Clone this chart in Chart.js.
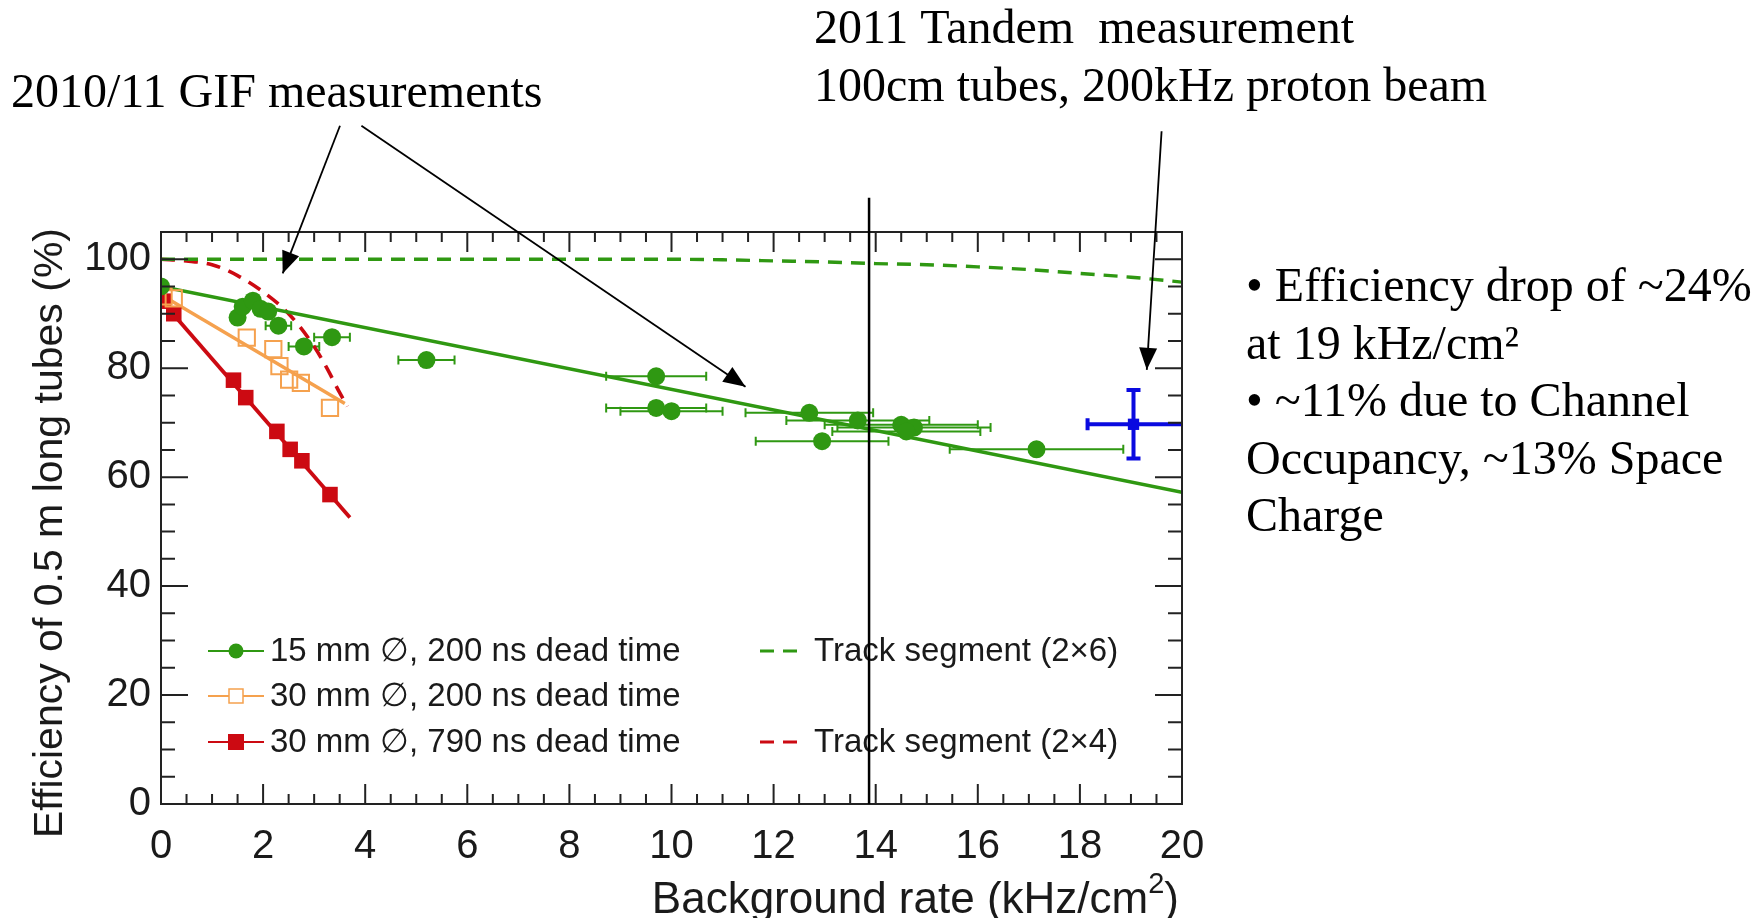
<!DOCTYPE html>
<html><head><meta charset="utf-8">
<script src="https://cdn.jsdelivr.net/npm/chart.js@4/dist/chart.umd.min.js"></script>
<style>html,body{margin:0;padding:0;background:#fff;overflow:hidden}canvas{display:block}</style>
</head><body>
<canvas id="c" width="1760" height="918"></canvas>
<script>
// ---------------- data ----------------
const xTickValues = [0, 2, 4, 6, 8, 10, 12, 14, 16, 18, 20];
const yTickValues = [0, 20, 40, 60, 80, 100];

// 15 mm, 200 ns dead time (GIF)
const greenX    = [0.0, 1.5, 1.6, 1.8, 1.95, 2.1, 2.3, 2.8, 3.35, 5.2, 9.7, 9.7, 10.0, 12.7, 12.95, 13.65, 14.5, 14.75, 14.6, 17.15];
const greenY    = [95.0, 89.3, 91.3, 92.4, 90.9, 90.4, 87.8, 84.0, 85.7, 81.5, 78.5, 72.7, 72.1, 71.8, 66.6, 70.4, 69.6, 69.1, 68.4, 65.1];
const greenXErr = [0, 0, 0, 0, 0, 0, 0.25, 0.3, 0.35, 0.55, 0.98, 0.98, 1.0, 1.25, 1.3, 1.4, 1.5, 1.5, 1.45, 1.7];
// 30 mm, 200 ns dead time
const orangeX = [0.05, 0.25, 1.68, 2.2, 2.32, 2.51, 2.74, 3.31];
const orangeY = [93.2, 92.8, 85.6, 83.5, 80.4, 77.9, 77.3, 72.7];
// 30 mm, 790 ns dead time
const redX = [0.05, 0.25, 1.42, 1.66, 2.27, 2.53, 2.76, 3.31];
const redY = [92.3, 90.0, 77.8, 74.6, 68.4, 65.1, 63.0, 56.8];
// fit lines
const greenFitX  = [0, 20];   const greenFitY  = [95.0, 57.2];
const orangeFitX = [0, 3.6];  const orangeFitY = [93.5, 73.5];
const redFitX    = [0, 3.7];  const redFitY    = [92.5, 52.6];
// track segment expectations
const track26X = [0, 10, 11, 12, 13, 14, 15, 16, 17, 18, 19, 20];
const track26Y = [100, 100, 99.9, 99.7, 99.5, 99.2, 99.0, 98.6, 98.1, 97.4, 96.7, 95.8];
const track24X = [0, 0.5, 1, 1.5, 2, 2.5, 3, 3.25, 3.5, 3.65];
const track24Y = [100, 99.7, 99, 97, 94, 90, 84, 80, 75.5, 73];
// 2011 Tandem measurement
const tandemX = [19.05]; const tandemY = [69.7];
const tandemXErr = [0.9]; const tandemYErr = [6.3];
// annotation geometry in data units
const markerLineX = 13.87; const markerLineTop = 111.3;
const arrowTails = [[3.506, 124.5], [3.926, 124.5], [19.60, 123.5]];
const arrowTips  = [[2.384, 97.4], [11.45, 76.6], [19.31, 79.7]];

const legendLeft  = ['15 mm \u2205, 200 ns dead time', '30 mm \u2205, 200 ns dead time', '30 mm \u2205, 790 ns dead time'];
const legendRight = ['Track segment (2\u00d76)', 'Track segment (2\u00d74)'];
const annotGIF = '2010/11 GIF measurements';
const annotTandem = ['2011 Tandem  measurement', '100cm tubes, 200kHz proton beam'];
const sideNotes = ['\u2022 Efficiency drop of ~24%', 'at 19 kHz/cm\u00b2', '\u2022 ~11% due to Channel', 'Occupancy, ~13% Space', 'Charge'];

// ---------------- styles ----------------
const GREEN = '#2f9812', ORANGE = '#f5a14e', RED = '#cc0a12', BLUE = '#0a0ae0';
const pts = (xs, ys) => xs.map((x, i) => ({x, y: ys[i]}));

const errorBars = {
  id: 'errorBars',
  beforeDatasetsDraw(chart) {
    const {ctx, chartArea: a, scales: {x, y}} = chart;
    ctx.save();
    ctx.beginPath(); ctx.rect(a.left, a.top, a.right - a.left, a.bottom - a.top); ctx.clip();
    ctx.strokeStyle = GREEN; ctx.lineWidth = 2;
    greenX.forEach((gx, i) => {
      const e = greenXErr[i]; if (!e) return;
      const py = y.getPixelForValue(greenY[i]);
      const x1 = x.getPixelForValue(gx - e), x2 = x.getPixelForValue(gx + e);
      ctx.beginPath();
      ctx.moveTo(x1, py); ctx.lineTo(x2, py);
      ctx.moveTo(x1, py - 4.5); ctx.lineTo(x1, py + 4.5);
      ctx.moveTo(x2, py - 4.5); ctx.lineTo(x2, py + 4.5);
      ctx.stroke();
    });
    ctx.strokeStyle = BLUE; ctx.lineWidth = 4;
    tandemX.forEach((tx, i) => {
      const px = x.getPixelForValue(tx), py = y.getPixelForValue(tandemY[i]);
      const x1 = x.getPixelForValue(tx - tandemXErr[i]), x2 = x.getPixelForValue(tx + tandemXErr[i] + 0.2);
      const y1 = y.getPixelForValue(tandemY[i] + tandemYErr[i]), y2 = y.getPixelForValue(tandemY[i] - tandemYErr[i]);
      ctx.beginPath();
      ctx.moveTo(x1, py); ctx.lineTo(x2, py);
      ctx.moveTo(x1, py - 6); ctx.lineTo(x1, py + 6);
      ctx.moveTo(px, y1); ctx.lineTo(px, y2);
      ctx.moveTo(px - 7, y1); ctx.lineTo(px + 7, y1);
      ctx.moveTo(px - 7, y2); ctx.lineTo(px + 7, y2);
      ctx.stroke();
    });
    ctx.restore();
  }
};

function arrow(ctx, x0, y0, x1, y1) {
  ctx.beginPath(); ctx.moveTo(x0, y0); ctx.lineTo(x1, y1); ctx.stroke();
  const ang = Math.atan2(y1 - y0, x1 - x0), L = 22, W = 9;
  const bx = x1 - L * Math.cos(ang), by = y1 - L * Math.sin(ang);
  ctx.beginPath();
  ctx.moveTo(x1, y1);
  ctx.lineTo(bx + W * Math.sin(ang), by - W * Math.cos(ang));
  ctx.lineTo(bx - W * Math.sin(ang), by + W * Math.cos(ang));
  ctx.closePath(); ctx.fill();
}

const decor = {
  id: 'decor',
  afterDraw(chart) {
    const {ctx, chartArea: a, scales: {x, y}} = chart;
    ctx.save();
    // frame
    ctx.strokeStyle = '#222'; ctx.lineWidth = 2;
    ctx.strokeRect(a.left, a.top, a.right - a.left, a.bottom - a.top);
    // inward ticks
    ctx.beginPath();
    for (let v = 0; v <= 20.001; v += 0.5) {
      const px = x.getPixelForValue(v);
      const L = (Math.abs(v / 2 - Math.round(v / 2)) < 1e-6) ? 20 : 10;
      ctx.moveTo(px, a.bottom); ctx.lineTo(px, a.bottom - L);
      ctx.moveTo(px, a.top); ctx.lineTo(px, a.top + L);
    }
    for (let v = 0; v <= 105.001; v += 5) {
      const py = y.getPixelForValue(v);
      const major = v % 20 === 0;
      ctx.moveTo(a.left, py); ctx.lineTo(a.left + (major ? 27 : 14), py);
      ctx.moveTo(a.right, py); ctx.lineTo(a.right - (major ? 27 : 14), py);
    }
    ctx.stroke();

    // axis titles
    ctx.fillStyle = '#1a1a1a';
    ctx.font = '41px "Liberation Sans", Arial, sans-serif';
    ctx.save();
    ctx.translate(62, 533); ctx.rotate(-Math.PI / 2);
    ctx.textAlign = 'center'; ctx.textBaseline = 'alphabetic';
    ctx.fillText('Efficiency of 0.5 m long tubes (%)', 0, 0);
    ctx.restore();
    const fMain = '44px "Liberation Sans", Arial, sans-serif', fSup = '29px "Liberation Sans", Arial, sans-serif';
    ctx.textAlign = 'left'; ctx.textBaseline = 'alphabetic';
    ctx.font = fMain; const wA = ctx.measureText('Background rate (kHz/cm').width, wC = ctx.measureText(')').width;
    ctx.font = fSup; const wB = ctx.measureText('2').width;
    let sx = 1179 - (wA + wB + wC);
    ctx.font = fMain; ctx.fillText('Background rate (kHz/cm', sx, 913);
    ctx.font = fSup; ctx.fillText('2', sx + wA, 893);
    ctx.font = fMain; ctx.fillText(')', sx + wA + wB, 913);

    // legend
    ctx.font = '33px "Liberation Sans", Arial, sans-serif';
    ctx.textBaseline = 'middle';
    const rows = [651, 696, 742];
    const lcols = [GREEN, ORANGE, RED];
    rows.forEach((ry, i) => {
      ctx.strokeStyle = lcols[i]; ctx.lineWidth = 2;
      ctx.beginPath(); ctx.moveTo(208, ry); ctx.lineTo(264, ry); ctx.stroke();
      if (i === 0) { ctx.fillStyle = GREEN; ctx.beginPath(); ctx.arc(236, ry, 7.5, 0, Math.PI * 2); ctx.fill(); }
      if (i === 1) { ctx.fillStyle = '#fff'; ctx.fillRect(229, ry - 7, 14, 14); ctx.lineWidth = 1.5; ctx.strokeRect(229, ry - 7, 14, 14); }
      if (i === 2) { ctx.fillStyle = RED; ctx.fillRect(228, ry - 8, 16, 16); }
      ctx.fillStyle = '#1a1a1a';
      ctx.fillText(legendLeft[i], 270, ry + 1);
    });
    [[651, GREEN], [742, RED]].forEach(([ry, c], i) => {
      ctx.strokeStyle = c; ctx.lineWidth = 3;
      ctx.beginPath(); ctx.moveTo(760, ry); ctx.lineTo(774, ry); ctx.moveTo(783, ry); ctx.lineTo(797, ry); ctx.stroke();
      ctx.fillStyle = '#1a1a1a';
      ctx.fillText(legendRight[i], 814, ry + 1);
    });

    // vertical marker line
    ctx.strokeStyle = '#000'; ctx.lineWidth = 2.5;
    const mx = x.getPixelForValue(markerLineX);
    ctx.beginPath(); ctx.moveTo(mx, y.getPixelForValue(markerLineTop)); ctx.lineTo(mx, a.bottom); ctx.stroke();

    // arrows
    ctx.strokeStyle = '#000'; ctx.fillStyle = '#000'; ctx.lineWidth = 1.8;
    arrowTails.forEach((t, i) => {
      arrow(ctx, x.getPixelForValue(t[0]), y.getPixelForValue(t[1]),
                 x.getPixelForValue(arrowTips[i][0]), y.getPixelForValue(arrowTips[i][1]));
    });

    // annotation texts
    ctx.fillStyle = '#000'; ctx.textAlign = 'left'; ctx.textBaseline = 'alphabetic';
    ctx.font = '48px "Liberation Serif", "Times New Roman", serif';
    ctx.fillText(annotGIF, 11, 107);
    ctx.fillText(annotTandem[0], 814, 43);
    ctx.fillText(annotTandem[1], 814, 101);
    sideNotes.forEach((s, i) => ctx.fillText(s, 1246, 301 + i * 57.5));
    ctx.restore();
  }
};

new Chart(document.getElementById('c'), {
  type: 'scatter',
  data: {
    datasets: [
      {label: 'tandem', data: pts(tandemX, tandemY), pointStyle: 'rect', pointRadius: 8, backgroundColor: BLUE, borderWidth: 0, showLine: false},
      {label: legendLeft[0], data: pts(greenX, greenY), pointStyle: 'circle', pointRadius: 9, backgroundColor: GREEN, borderWidth: 0, showLine: false},
      {label: legendLeft[1], data: pts(orangeX, orangeY), pointStyle: 'rect', pointRadius: 11.5, backgroundColor: 'rgba(255,255,255,0)', borderColor: ORANGE, borderWidth: 2, showLine: false},
      {label: legendLeft[2], data: pts(redX, redY), pointStyle: 'rect', pointRadius: 11, backgroundColor: RED, borderWidth: 0, showLine: false},
      {label: 'green fit', data: pts(greenFitX, greenFitY), showLine: true, pointRadius: 0, borderColor: GREEN, borderWidth: 3.5},
      {label: 'orange fit', data: pts(orangeFitX, orangeFitY), showLine: true, pointRadius: 0, borderColor: ORANGE, borderWidth: 3.5},
      {label: 'red fit', data: pts(redFitX, redFitY), showLine: true, pointRadius: 0, borderColor: RED, borderWidth: 3.8},
      {label: legendRight[0], data: pts(track26X, track26Y), showLine: true, pointRadius: 0, borderColor: GREEN, borderWidth: 3.4, borderDash: [14, 9], cubicInterpolationMode: 'monotone'},
      {label: legendRight[1], data: pts(track24X, track24Y), showLine: true, pointRadius: 0, borderColor: RED, borderWidth: 3.6, borderDash: [14, 9], cubicInterpolationMode: 'monotone'}
    ]
  },
  options: {
    responsive: false, animation: false, devicePixelRatio: 1,
    layout: {padding: {left: 0, top: 232, right: 578, bottom: 0}},
    plugins: {legend: {display: false}, tooltip: {enabled: false}},
    scales: {
      x: {type: 'linear', min: 0, max: 20, position: 'bottom',
          afterBuildTicks: s => { s.ticks = xTickValues.map(v => ({value: v})); },
          ticks: {font: {size: 40, family: '"Liberation Sans", Arial, sans-serif'}, color: '#1a1a1a', padding: 19, maxRotation: 0, autoSkip: false},
          grid: {display: false, drawTicks: false}, border: {display: false},
          afterFit: s => { s.height = 114; }},
      y: {type: 'linear', min: 0, max: 105,
          afterBuildTicks: s => { s.ticks = yTickValues.map(v => ({value: v})); },
          ticks: {font: {size: 40, family: '"Liberation Sans", Arial, sans-serif'}, color: '#1a1a1a', padding: 10, autoSkip: false},
          grid: {display: false, drawTicks: false}, border: {display: false},
          afterFit: s => { s.width = 161; }}
    }
  },
  plugins: [errorBars, decor]
});
</script>
</body></html>
